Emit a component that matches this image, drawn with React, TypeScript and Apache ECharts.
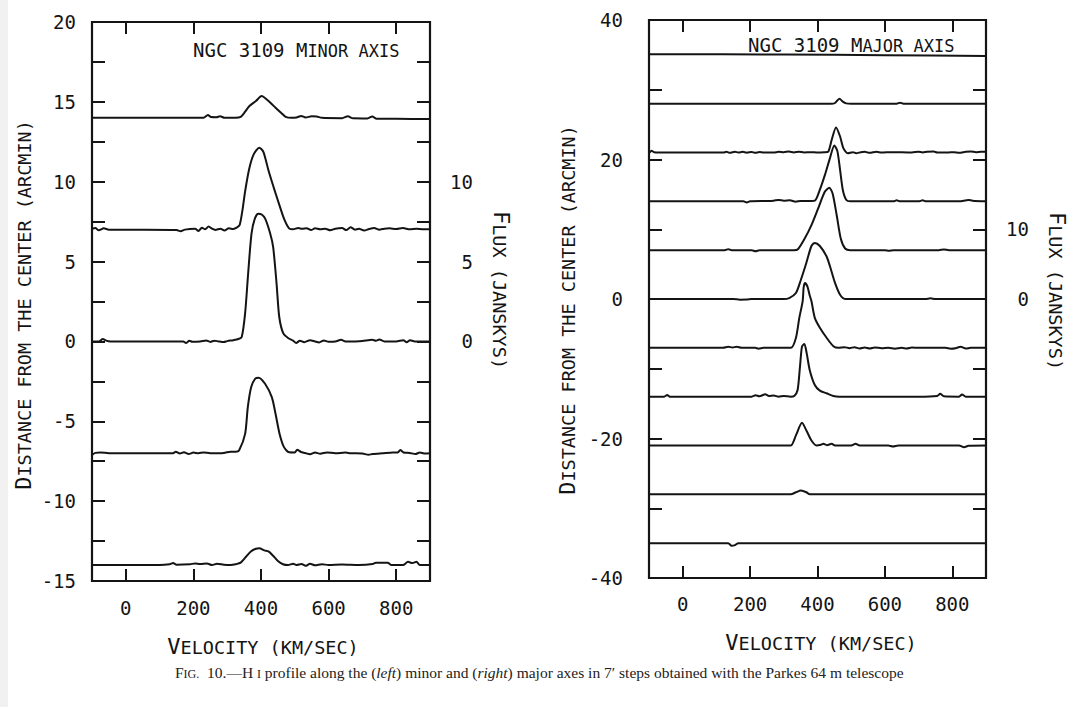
import React, { useEffect, useRef } from 'react';
import * as echarts from 'echarts';

// ---------- DATA ----------
const velocityTicks = [0, 200, 400, 600, 800];
const minorYLabels = [-15, -10, -5, 0, 5, 10, 15, 20];
const minorYTicks = [-12.5, -10, -7.5, -5, -2.5, 0, 2.5, 5, 7.5, 10, 12.5, 15, 17.5];
const minorFluxLabels = [0, 5, 10];
const majorYLabels = [-40, -20, 0, 20, 40];
const majorYTicks = [-30, -20, -10, 0, 10, 20, 30];
const majorFluxLabels = [0, 10];

// Minor axis profiles: [velocity km/s, flux Jy above the baseline]
const minorOffsets = [14, 7, 0, -7, -14];
const minor14 = [[-100,0],[-40,0],[60,0],[180,0],[230,0],[243,0.18],[252,0.05],[268,0.04],[279,0.1],[292,0],[325,0],[340,0.06],[352,0.35],[365,0.73],[385,1.05],[402,1.36],[417,1.15],[430,0.9],[443,0.63],[460,0.3],[473,0.06],[490,0],[505,0.02],[519,0.12],[532,0.02],[550,0.1],[565,0.08],[580,0],[640,-0.02],[657,0.1],[672,-0.03],[715,-0.04],[729,0.08],[742,-0.05],[800,-0.06],[900,-0.08]];
const minor7 = [[-100,0.05],[-90,0.1],[-80,-0.04],[-65,0.08],[-50,0],[-30,0],[60,0],[150,-0.02],[162,-0.1],[175,0],[205,0.05],[215,-0.08],[225,0.12],[235,0.02],[245,0.2],[255,0.06],[265,-0.02],[280,0.06],[292,-0.05],[305,0.08],[318,0.04],[328,0.12],[337,0.3],[345,1.2],[353,2.4],[365,3.8],[378,4.7],[395,5.13],[407,4.87],[422,3.72],[437,2.68],[453,1.63],[468,0.69],[483,0.08],[495,0.02],[510,0.1],[522,0.05],[535,0.09],[548,-0.03],[560,0.08],[575,0.02],[590,0.06],[605,-0.04],[620,0.06],[640,0.1],[652,-0.03],[665,0.15],[678,0],[690,0.05],[705,-0.06],[720,0.04],[735,0.1],[750,0],[765,0.06],[780,0.08],[800,0.04],[820,0.1],[840,0.02],[860,0.05],[880,0.02],[900,0.02]];
const minor0 = [[-100,0],[-80,0],[-68,0.15],[-58,0.05],[-45,0],[100,0],[170,0],[178,-0.1],[188,0.04],[197,-0.02],[220,0],[238,0.06],[250,-0.03],[262,0.05],[275,0],[290,-0.04],[300,0.02],[318,0.08],[333,0.15],[343,0.28],[353,1.76],[362,4.26],[372,6.77],[382,7.7],[392,8.0],[402,7.95],[412,7.7],[427,6.77],[436,5.9],[446,3.64],[454,1.53],[466,0.5],[481,0.2],[495,0.05],[504,-0.1],[515,0.05],[528,-0.05],[545,0.08],[560,0],[572,-0.06],[586,0.06],[600,-0.02],[620,0],[637,0.1],[650,0],[680,0],[700,0.02],[729,0.1],[740,0.04],[750,0.12],[765,0],[800,0],[821,0.08],[831,-0.05],[841,0.08],[855,0],[900,0]];
const minorM7 = [[-100,-0.1],[-90,0.02],[-75,0.05],[-50,0],[100,0],[140,0],[148,0.1],[160,-0.02],[172,0.06],[186,-0.05],[200,0.04],[215,0],[230,0.05],[250,0],[290,0.02],[310,0.1],[325,0.1],[335,0.17],[353,1.21],[361,2.89],[371,4.14],[383,4.67],[393,4.73],[412,4.35],[432,3.51],[443,2.47],[455,1.21],[468,0.38],[483,0.06],[500,0.05],[507,0.22],[518,0.08],[530,0.02],[545,-0.06],[560,0.04],[575,-0.03],[595,0.05],[620,0],[650,0.04],[665,0],[700,-0.02],[718,-0.1],[730,-0.05],[760,0],[790,0.05],[805,0.05],[812,0.2],[822,0.05],[840,0.02],[857,-0.05],[870,0.05],[885,-0.02],[900,0]];
const minorM14 = [[-100,0],[-50,0],[100,0],[130,0.05],[140,0.12],[150,0.02],[190,0.05],[205,0.1],[220,0.06],[240,0.1],[255,0],[270,0.08],[290,0.02],[310,0],[325,0.05],[340,0.15],[355,0.5],[370,0.85],[385,1.02],[395,1.05],[410,0.92],[422,0.85],[435,0.6],[450,0.25],[465,0.05],[480,0],[495,0.08],[505,0],[520,0.06],[532,-0.05],[545,0.08],[560,-0.02],[580,0.05],[600,0],[640,0.03],[690,0],[730,0.06],[740,0.15],[775,0.15],[785,0],[820,0],[835,0.2],[848,0.12],[860,0.2],[870,0],[900,0]];
const minorProfiles = [minor14, minor7, minor0, minorM7, minorM14];

// Major axis profiles
const majorOffsets = [35, 28, 21, 14, 7, 0, -7, -14, -21, -28, -35];
const major35 = [[-97,0.1],[300,0.05],[600,-0.05],[900,-0.15]];
const major28 = [[-98,0],[300,0],[440,0],[452,0.1],[465,0.72],[475,0.3],[485,0.05],[500,0],[635,0],[645,0.15],[655,0],[900,0]];
const major21 = [[-98,0],[-92,0.24],[-85,0.05],[-70,0],[120,0],[130,0.1],[140,-0.05],[155,0.12],[165,0],[178,0.1],[190,-0.03],[205,0.08],[215,-0.05],[228,0.06],[240,0],[270,0],[285,0.1],[300,0.05],[315,0.15],[330,0.02],[345,0.1],[360,0.02],[380,0.05],[400,0],[420,0.05],[432,0.14],[442,1.8],[455,3.6],[467,2.3],[477,0.6],[490,-0.1],[505,0.05],[515,-0.1],[528,0.05],[540,0.1],[555,-0.05],[575,0.1],[590,0],[620,0.05],[680,0],[700,0.12],[712,0.02],[725,0.1],[745,0.15],[755,0],[785,0],[805,0.05],[820,-0.05],[840,0.1],[855,0.15],[870,0.05],[885,0.12],[900,0.1]];
const major14 = [[-98,0],[100,0],[180,0],[190,-0.15],[200,0],[250,0.05],[270,0.1],[285,0.2],[300,0.1],[318,0.15],[335,-0.05],[350,0.05],[375,0.05],[392,0.1],[407,1.67],[422,3.8],[437,6.2],[450,8.0],[459,7.2],[467,4.5],[475,1.67],[485,0.24],[497,0],[560,0],[625,0],[635,0.15],[645,0],[700,0],[712,0.15],[722,0],[820,0],[848,0.2],[860,0.1],[900,0]];
const major7 = [[-98,0],[100,0],[125,0],[135,0.15],[145,0],[205,0],[216,-0.15],[228,0],[330,0],[342,0.14],[362,1.67],[382,3.6],[402,6.0],[422,8.4],[435,8.95],[445,8.1],[457,5.0],[469,1.67],[482,0.24],[497,0],[600,0],[612,-0.1],[625,0],[760,0],[775,0.1],[790,0],[900,0]];
const major0 = [[-98,0],[150,0],[170,-0.1],[190,-0.08],[205,0],[300,0],[316,0.14],[336,0.86],[351,2.8],[367,5.2],[382,7.6],[392,8.04],[407,7.6],[427,6.1],[437,4.7],[452,2.3],[467,0.6],[482,0],[600,0],[720,0],[735,0.1],[750,0],[900,0]];
const majorM7 = [[-98,0],[120,0],[135,0.15],[148,0.05],[160,0.15],[175,0],[215,0],[225,-0.12],[240,0],[321,0],[336,1.44],[346,4.3],[356,6.7],[359,8.7],[363,9.3],[370,8.8],[377,7.5],[382,6.7],[392,4.3],[407,2.87],[427,1.44],[447,0.24],[462,0],[480,0.1],[495,-0.05],[510,0.1],[525,-0.1],[540,0.05],[555,-0.1],[570,0.05],[590,-0.05],[610,0],[630,-0.12],[650,0],[665,-0.1],[680,0.05],[700,0],[780,0],[795,-0.12],[810,-0.05],[825,0.15],[840,-0.1],[855,0],[900,0]];
const majorM14 = [[-98,0],[-55,0],[-46,0.25],[-38,0],[150,0],[205,0],[216,0.2],[228,0.05],[245,0.35],[256,0.1],[270,0.15],[285,0],[300,0.1],[320,0],[331,0.1],[341,0.96],[348,4.3],[354,7.2],[361,7.56],[368,6.2],[377,3.8],[392,1.67],[407,0.86],[427,0.48],[447,0.1],[465,0],[700,0],[755,0.1],[764,0.4],[775,0.05],[820,0],[829,0.3],[840,0],[900,0]];
const majorM21 = [[-98,0],[300,0],[321,0],[336,1.44],[354,3.25],[367,2.15],[382,0.72],[397,0],[410,0.1],[417,0.24],[428,0.05],[442,0.24],[452,0],[500,0],[513,0.24],[525,0],[610,0],[624,-0.14],[640,0],[820,0],[835,-0.24],[848,-0.05],[900,0]];
const majorM28 = [[-98,0],[321,0],[336,0.29],[351,0.53],[367,0.29],[377,0],[900,0]];
const majorM35 = [[-100,0],[135,0],[145,-0.38],[155,-0.29],[165,0],[900,0]];
const majorProfiles = [major35, major28, major21, major14, major7, major0, majorM7, majorM14, majorM21, majorM28, majorM35];

// ---------- STYLE ----------
const INK = '#141414';
const MONO = "'DejaVu Sans Mono', 'Liberation Mono', monospace";
const SERIF = "'Liberation Serif', 'DejaVu Serif', serif";

function buildXAxes(gridIndex: number) {
  const base = {
    gridIndex,
    type: 'value' as const,
    min: -100,
    max: 900,
    axisLine: { show: false, onZero: false },
    splitLine: { show: false },
    axisTick: { show: true, inside: true, length: 12, customValues: velocityTicks, lineStyle: { color: INK, width: 2 } },
  };
  return [
    { ...base, position: 'bottom', axisLabel: { show: true, customValues: velocityTicks, margin: gridIndex === 0 ? 17 : 16, fontFamily: MONO, fontSize: 19, color: INK } },
    { ...base, position: 'top', axisLabel: { show: false } },
  ];
}

function buildYAxes(gridIndex: number, min: number, max: number, ticks: number[], labels: number[], flux: number[], margin: number) {
  const tick = { show: true, inside: true, length: 13, customValues: ticks, lineStyle: { color: INK, width: 2 } };
  return [
    {
      gridIndex, type: 'value' as const, min, max, position: 'left',
      axisLine: { show: false, onZero: false }, splitLine: { show: false }, axisTick: tick,
      axisLabel: { show: true, customValues: labels, margin, fontFamily: MONO, fontSize: 19, color: INK },
    },
    {
      gridIndex, type: 'value' as const, min, max, position: 'right',
      axisLine: { show: false, onZero: false }, splitLine: { show: false }, axisTick: tick,
      axisLabel: { show: true, customValues: flux, margin: 43, align: 'right', fontFamily: MONO, fontSize: 19, color: INK },
    },
  ];
}

function traceSeries(profiles: number[][][], offsets: number[], xIdx: number, yIdx: number) {
  return profiles.map((p, i) => ({
    type: 'line' as const,
    xAxisIndex: xIdx,
    yAxisIndex: yIdx,
    data: p.map(([v, f]) => [v, +(offsets[i] + f).toFixed(3)]),
    showSymbol: false,
    symbol: 'none',
    smooth: 0.25,
    lineStyle: { color: INK, width: 2 },
    silent: true,
  }));
}

const smallCaps = (big: number, small: number) => ({
  b: { fontFamily: MONO, fontSize: big, fill: INK, verticalAlign: 'bottom' },
  s: { fontFamily: MONO, fontSize: small, fill: INK, verticalAlign: 'bottom' },
});

function label(text: string, x: number, y: number, rotation: number, big: number, small: number, align = 'center') {
  return {
    type: 'text', x, y, rotation, silent: true,
    style: { text, align, verticalAlign: 'middle', fill: INK, rich: smallCaps(big, small) },
  };
}

const option = {
  animation: false,
  backgroundColor: '#ffffff',
  grid: [
    { left: 92, top: 22, width: 338, height: 559, show: true, borderColor: INK, borderWidth: 2.2, backgroundColor: 'transparent' },
    { left: 649, top: 20, width: 337, height: 558, show: true, borderColor: INK, borderWidth: 2.2, backgroundColor: 'transparent' },
  ],
  xAxis: [...buildXAxes(0), ...buildXAxes(1)],
  yAxis: [
    ...buildYAxes(0, -15, 20, minorYTicks, minorYLabels, minorFluxLabels, 16),
    ...buildYAxes(1, -40, 40, majorYTicks, majorYLabels, majorFluxLabels, 26),
  ],
  series: [
    ...traceSeries(minorProfiles, minorOffsets, 0, 0),
    ...traceSeries(majorProfiles, majorOffsets, 2, 2),
  ],
  graphic: [
    { type: 'rect', shape: { x: 0, y: 0, width: 8, height: 707 }, style: { fill: '#f1f1f1' }, silent: true },
    label('{b|NGC 3109 M}{s|INOR AXIS}', 193, 50, 0, 19, 17, 'left'),
    label('{b|NGC 3109 M}{s|AJOR AXIS}', 748, 45, 0, 19, 17, 'left'),
    label('{b|V}{s|ELOCITY (KM/SEC)}', 263, 646, 0, 22, 18.5),
    label('{b|V}{s|ELOCITY (KM/SEC)}', 821, 642, 0, 22, 18.5),
    label('{b|D}{s|ISTANCE FROM THE CENTER (ARCMIN)}', 23, 305, Math.PI / 2, 22, 18.5),
    label('{b|D}{s|ISTANCE FROM THE CENTER (ARCMIN)}', 567, 310, Math.PI / 2, 22, 18.5),
    label('{b|F}{s|LUX (JANSKYS)}', 501, 290, -Math.PI / 2, 22, 18.5),
    label('{b|F}{s|LUX (JANSKYS)}', 1057, 291, -Math.PI / 2, 22, 18.5),
    {
      type: 'text', x: 175, y: 672, silent: true,
      style: {
        text: '{n|F}{sc|IG.}{n|  10.—H }{sc|I}{n| profile along the (}{i|left}{n|) minor and (}{i|right}{n|) major axes in 7′ steps obtained with the Parkes 64 m telescope}',
        align: 'left', verticalAlign: 'middle', fill: INK,
        rich: {
          n: { fontFamily: SERIF, fontSize: 15.5, fill: '#222', verticalAlign: 'bottom' },
          sc: { fontFamily: SERIF, fontSize: 12, fill: '#222', verticalAlign: 'bottom' },
          i: { fontFamily: SERIF, fontSize: 15.5, fontStyle: 'italic', fill: '#222', verticalAlign: 'bottom' },
        },
      },
    },
  ],
};

export default function App() {
  const ref = useRef<HTMLDivElement>(null);
  useEffect(() => {
    const chart = echarts.init(ref.current!, null, { renderer: 'svg' });
    chart.setOption(option as any);
    return () => chart.dispose();
  }, []);
  return (
    <div
      ref={ref}
      style={{ position: 'absolute', left: 0, top: 0, width: 1069, height: 707, background: '#fff' }}
    />
  );
}
